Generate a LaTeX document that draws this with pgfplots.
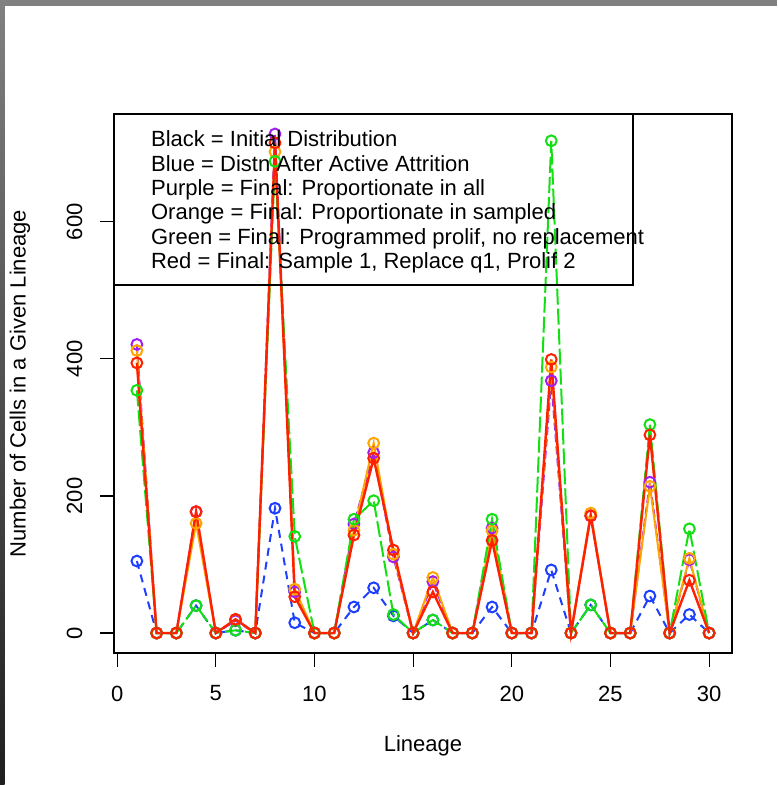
\documentclass[border=0pt]{standalone}
\usepackage{pgfplots}
\pgfplotsset{compat=1.18}
\usepackage{fontspec}
\setmainfont{Liberation Sans}
\definecolor{rblue}{HTML}{1F3FFF}
\definecolor{rpurple}{HTML}{A020F0}
\definecolor{rorange}{HTML}{FFA500}
\definecolor{rgreen}{HTML}{12E012}
\definecolor{rred}{HTML}{FF2000}
\definecolor{framegray}{HTML}{808080}
\definecolor{framedark}{HTML}{1E1E1E}
\begin{document}
\fontsize{11}{13}\selectfont
\begin{tikzpicture}
\useasboundingbox (0pt,0pt) rectangle (388.5pt,392.5pt);
\fill[white] (0pt,0pt) rectangle (388.5pt,392.5pt);
\fill[framegray] (0pt,389.5pt) rectangle (388.5pt,392.5pt);
\shade[top color=framegray, bottom color=framedark] (0pt,0pt) rectangle (2.25pt,389.5pt);
\begin{axis}[
  at={(57pt,66pt)}, anchor=south west,
  width=309pt, height=269.5pt, scale only axis,
  xmin=-0.16, xmax=31.16, ymin=-29.12, ymax=757.12,
  xtick={0,5,...,30}, ytick={0,200,400,600},
  xtick pos=bottom, ytick pos=left, tick align=outside,
  major tick length=7pt,
  tick style={black, line width=0.6pt},
  axis line style={line width=0.6pt},
  xticklabel shift=5.5pt, yticklabel shift=5pt,
  yticklabel style={rotate=90, anchor=south},
  /pgf/number format/assume math mode=true,
  xlabel={Lineage}, ylabel={Number of Cells in a Given Lineage},
  x label style={at={(axis description cs:0.5,-0.1725)}, anchor=center},
  y label style={at={(axis description cs:-0.1521,0.5)}, anchor=center},
  every axis plot/.append style={line width=1pt, mark=o, mark size=2.7pt, mark options={solid, line width=1pt}},
]
% Blue = Distn After Active Attrition
\addplot[rblue, dash pattern=on 4pt off 3pt] coordinates {
(1,105) (2,0) (3,0) (4,40) (5,0) (6,4) (7,0) (8,182) (9,15) (10,0)
(11,0) (12,38) (13,66) (14,25) (15,0) (16,19) (17,0) (18,0) (19,38) (20,0)
(21,0) (22,92) (23,0) (24,41) (25,0) (26,0) (27,54) (28,0) (29,27) (30,0)};
% Purple = Final: Proportionate in all
\addplot[rpurple, dash pattern=on 4pt off 2pt] coordinates {
(1,421) (2,0) (3,0) (4,177) (5,0) (6,18) (7,0) (8,728) (9,60) (10,0)
(11,0) (12,159) (13,263) (14,111) (15,0) (16,75) (17,0) (18,0) (19,153) (20,0)
(21,0) (22,368) (23,0) (24,171) (25,0) (26,0) (27,220) (28,0) (29,107) (30,0)};
% Orange = Final: Proportionate in sampled
\addplot[rorange] coordinates {
(1,412) (2,0) (3,0) (4,160) (5,0) (6,20) (7,0) (8,702) (9,64) (10,0)
(11,0) (12,150) (13,277) (14,115) (15,0) (16,81) (17,0) (18,0) (19,149) (20,0)
(21,0) (22,388) (23,0) (24,175) (25,0) (26,0) (27,214) (28,0) (29,109) (30,0)};
% Green = Final: Programmed prolif, no replacement
\addplot[rgreen, dash pattern=on 8pt off 2pt] coordinates {
(1,354) (2,0) (3,0) (4,40) (5,0) (6,4) (7,0) (8,688) (9,141) (10,0)
(11,0) (12,166) (13,193) (14,27) (15,0) (16,19) (17,0) (18,0) (19,166) (20,0)
(21,0) (22,718) (23,0) (24,41) (25,0) (26,0) (27,304) (28,0) (29,152) (30,0)};
% Red = Final: Sample 1, Replace q1, Prolif 2
\addplot[rred, line width=1.2pt] coordinates {
(1,394) (2,0) (3,0) (4,177) (5,0) (6,20) (7,0) (8,715) (9,53) (10,0)
(11,0) (12,143) (13,255) (14,121) (15,0) (16,60) (17,0) (18,0) (19,135) (20,0)
(21,0) (22,399) (23,0) (24,171) (25,0) (26,0) (27,289) (28,0) (29,77) (30,0)};
\end{axis}
\draw[line width=0.6pt] (56.75pt,250pt) rectangle (316.5pt,335.5pt);
\node[anchor=base west, inner sep=0pt] at (75.35pt,319pt) {Black = Initial Distribution};
\node[anchor=base west, inner sep=0pt] at (75.35pt,306.85pt) {Blue = Distn After Active Attrition};
\node[anchor=base west, inner sep=0pt] at (75.35pt,294.7pt) {Purple = Final: Proportionate in all};
\node[anchor=base west, inner sep=0pt] at (75.35pt,282.5pt) {Orange = Final: Proportionate in sampled};
\node[anchor=base west, inner sep=0pt] at (75.35pt,270.35pt) {Green = Final: Programmed prolif, no replacement};
\node[anchor=base west, inner sep=0pt] at (75.35pt,258.2pt) {Red = Final: Sample 1, Replace q1, Prolif 2};
\end{tikzpicture}
\end{document}
